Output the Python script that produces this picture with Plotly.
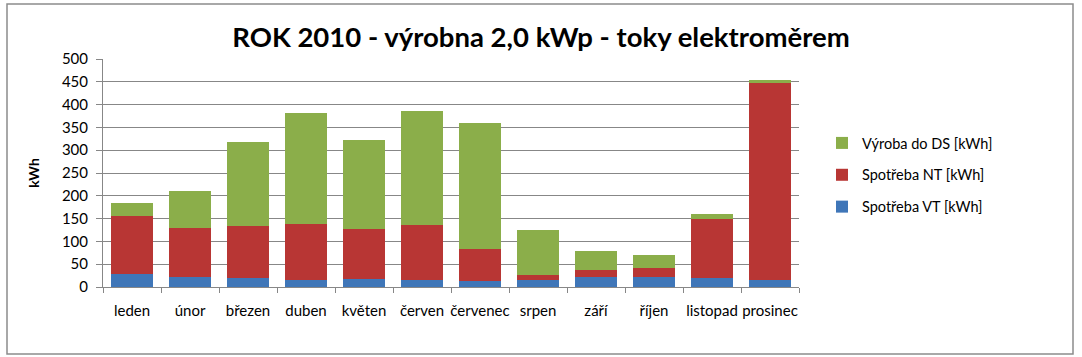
import plotly.graph_objects as go

months = ["leden", "únor", "březen", "duben", "květen", "červen", "červenec",
          "srpen", "září", "říjen", "listopad", "prosinec"]
spotreba_vt = [29, 23, 19, 15, 18, 15, 13, 15, 23, 23, 19, 15]
spotreba_nt = [126, 107, 114, 124, 110, 121, 71, 12, 14, 18, 131, 432]
vyroba_ds = [30, 80, 184, 242, 195, 250, 275, 98, 42, 29, 11, 8]

FONT = "Lato, Carlito, Calibri, sans-serif"
W, H = 1082, 357
L, R, T, B = 103, 283, 59, 70

fig = go.Figure()
fig.add_trace(go.Bar(x=months, y=spotreba_vt, name="Spotřeba VT [kWh]",
                     marker=dict(color="#3f76b8", line=dict(width=0)),
                     legendgroup="a", legendrank=3))
fig.add_trace(go.Bar(x=months, y=spotreba_nt, name="Spotřeba NT [kWh]",
                     marker=dict(color="#b83634", line=dict(width=0)),
                     legendgroup="b", legendrank=2))
fig.add_trace(go.Bar(x=months, y=vyroba_ds, name="Výroba do DS [kWh]",
                     marker=dict(color="#8bae4a", line=dict(width=0)),
                     legendgroup="c", legendrank=1))

pw = W - L - R
ph = H - T - B
fig.update_layout(
    width=W, height=H,
    margin=dict(l=L, r=R, t=T, b=B, autoexpand=False),
    barmode="stack", bargap=0.29,
    paper_bgcolor="white", plot_bgcolor="white",
    font=dict(family=FONT, size=15, color="black"),
    title=dict(text="<b>ROK 2010 - výrobna 2,0 kWp - toky elektroměrem</b>",
               x=0.5, xref="container", xanchor="center", y=1 - 37 / H, yanchor="middle",
               font=dict(family=FONT, size=27.5, color="black")),
    legend=dict(x=(822 - L) / pw, y=(H - B - 175) / ph, xanchor="left", yanchor="middle",
                traceorder="grouped", tracegroupgap=10,
                font=dict(family=FONT, size=14.5), itemwidth=30),
    showlegend=True,
    xaxis=dict(showline=True, linecolor="#878787", ticks="outside", tickson="boundaries",
               ticklen=5, tickcolor="#878787", showgrid=False, tickangle=0,
               ticklabelstandoff=10,
               automargin=False, tickfont=dict(family=FONT, size=15)),
    yaxis=dict(range=[0, 500], dtick=50, showline=True, linecolor="#878787",
               ticks="outside", ticklen=6, tickcolor="#878787", automargin=False,
               ticklabelstandoff=5,
               showgrid=True, gridcolor="#878787", gridwidth=1, zeroline=False,
               title=dict(text="<b>kWh</b>", font=dict(family=FONT, size=14), standoff=18),
               tickfont=dict(family=FONT, size=15)),
    shapes=[dict(type="rect", xref="paper", yref="paper",
                 x0=(7 - L) / pw, x1=(1073 - L) / pw,
                 y0=(H - B - 354) / ph, y1=(H - B - 4) / ph,
                 line=dict(color="#8c8c8c", width=1.5), fillcolor="rgba(0,0,0,0)",
                 layer="below")],
)
fig.write_html("out.html", config={"displayModeBar": False},
               post_script="document.body.style.margin='0';")
